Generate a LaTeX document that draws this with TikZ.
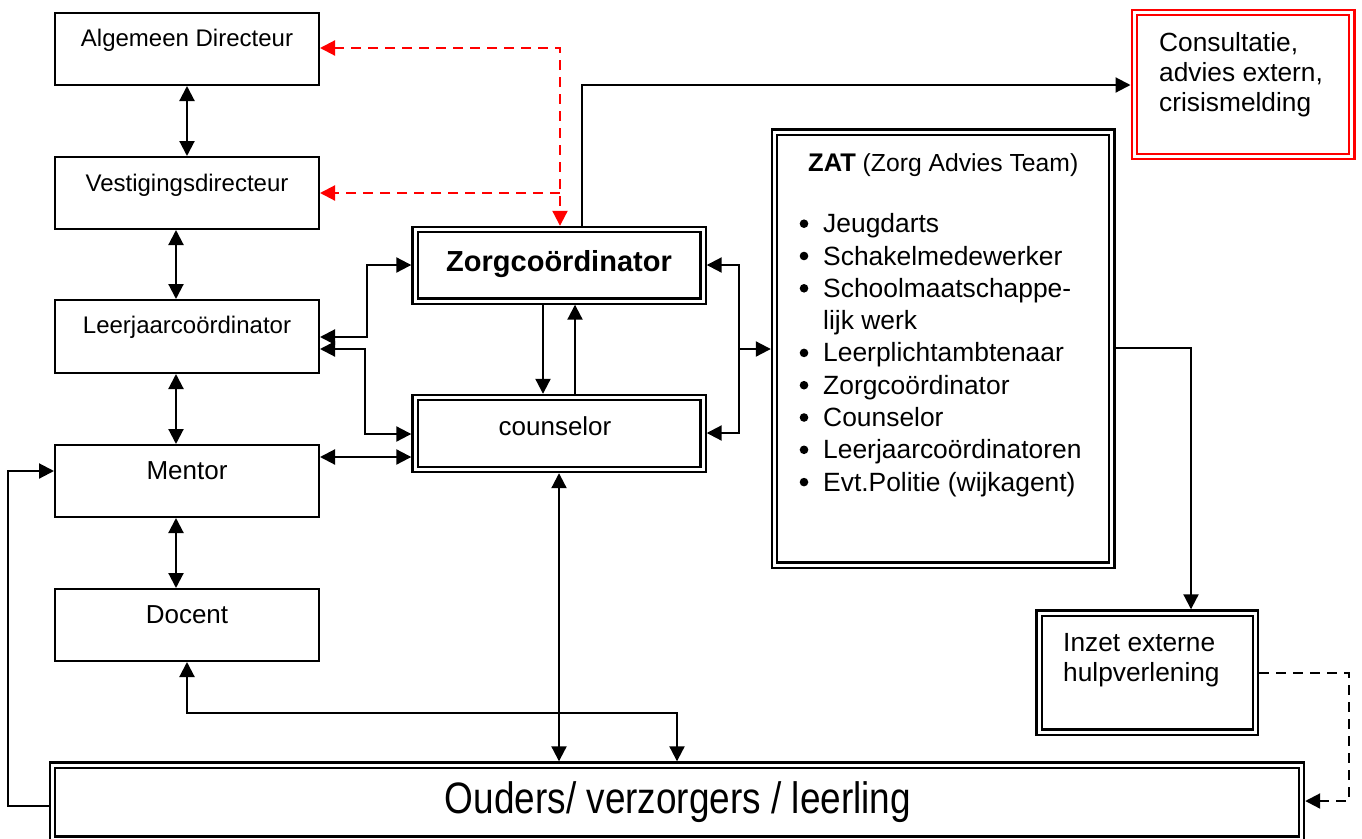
\documentclass[tikz,border=0pt]{standalone}
\usepackage{fontspec}
\setmainfont{Liberation Sans}
\newfontfamily\ouderfont[FakeStretch=0.84]{Liberation Sans}
\usetikzlibrary{arrows.meta}
\begin{document}
\begin{tikzpicture}[x=1pt,y=-1pt,
  lbox/.style={draw, line width=2pt, inner sep=0pt, outer sep=1pt},
  dbox/.style={draw, line width=2.2pt, double, double distance=3pt, inner sep=0pt, outer sep=3.7pt},
  txt/.style={inner sep=0pt},
  tip/.tip={Triangle[length=15pt,width=15pt]},
  arr/.style={line width=2.1pt, -tip},
  darr/.style={line width=2.1pt, tip-tip},
  redarr/.style={red, line width=2.1pt, dash pattern=on 10pt off 7pt, -tip},
  reddarr/.style={red, line width=2.1pt, dash pattern=on 10pt off 7pt, tip-tip},
  dasharr/.style={line width=2.1pt, dash pattern=on 10pt off 7pt, -tip}]
\useasboundingbox (0,0) rectangle (1362,838);
\fill[white] (0,0) rectangle (1362,838);
\clip (0,0) rectangle (1362,838);

% boxes
\node[lbox, minimum width=264pt, minimum height=72pt] (alg) at (187,49) {};
\node[lbox, minimum width=264pt, minimum height=72pt] (ves) at (187,193) {};
\node[lbox, minimum width=264pt, minimum height=73pt] (leer) at (187,336.5) {};
\node[lbox, minimum width=264pt, minimum height=72pt] (ment) at (187,481) {};
\node[lbox, minimum width=264pt, minimum height=72pt] (doc) at (187,625) {};
\node[dbox, minimum width=288pt, minimum height=71.5pt] (zorg) at (559,265.25) {};
\node[dbox, minimum width=288pt, minimum height=72pt] (couns) at (559,433.5) {};
\node[dbox, minimum width=337.3pt, minimum height=433pt] (zat) at (943.15,348.5) {};
\node[dbox, minimum width=216.3pt, minimum height=119pt] (inzet) at (1147.15,672.5) {};
\node[dbox, draw=red, minimum width=217.6pt, minimum height=144.5pt] (cons) at (1243,84.45) {};
\node[dbox, minimum width=1249pt, minimum height=74pt] (ouders) at (677,802) {};

% texts
\node[txt, anchor=base, font=\fontsize{24}{28}\selectfont] (algt) at (187,46) {Algemeen Directeur};
\node[txt, anchor=base, font=\fontsize{24}{28}\selectfont] (vest) at (187,191) {Vestigingsdirecteur};
\node[txt, anchor=base, font=\fontsize{24}{28}\selectfont] (leert) at (187,333) {Leerjaarcoördinator};
\node[txt, anchor=base, font=\fontsize{26}{30}\selectfont] (mentt) at (187,479) {Mentor};
\node[txt, anchor=base, font=\fontsize{26}{30}\selectfont] (doct) at (187,623) {Docent};
\node[txt, anchor=base, font=\fontsize{29}{33}\selectfont\bfseries] (zorgt) at (559,271) {Zorgcoördinator};
\node[txt, anchor=base, font=\fontsize{26}{30}\selectfont] (counst) at (555,435) {counselor};
\node[txt, anchor=base, font=\fontsize{44}{50}\ouderfont] (oudert) at (678,813) {Ouders/ verzorgers / leerling};
\node[txt, anchor=base west, font=\fontsize{26.3}{30}\selectfont] (const) at (1159,51)
  {\begin{tabular}[t]{@{}l@{}}Consultatie,\\advies extern,\\crisismelding\end{tabular}};
\node[txt, anchor=base west, font=\fontsize{26.3}{30}\selectfont] (inzett) at (1063,651)
  {\begin{tabular}[t]{@{}l@{}}Inzet externe\\hulpverlening\end{tabular}};
\node[txt, anchor=base west, font=\fontsize{24.7}{28}\selectfont] (zatt) at (808,171)
  {{\bfseries\fontsize{25.5}{28}\selectfont ZAT} (Zorg Advies Team)};
\node[txt, anchor=base west, font=\fontsize{26.4}{32.3}\selectfont] (zatl) at (823,232.7)
  {\begin{tabular}[t]{@{}l@{}}
   Jeugdarts\\
   Schakelmedewerker\\
   Schoolmaatschappe-\\
   lijk werk\\
   Leerplichtambtenaar\\
   Zorgcoördinator\\
   Counselor\\
   Leerjaarcoördinatoren\\
   Evt.Politie (wijkagent)
   \end{tabular}};
% bullets
\foreach \yy in {232.7,265,297.3,361.9,394.2,426.5,458.8,491.1}
  \fill (804,\yy-9) circle (4.3pt);

% bend points
\coordinate (c176) at (176,0);
\coordinate (dk2) at (677,713);
\coordinate (ol) at (8,806);
\coordinate (ol2) at (8,471);
\coordinate (mc) at (0,457);
\coordinate (lz1) at (367,337);
\coordinate (lz2) at (367,265);
\coordinate (lc1) at (365,349);
\coordinate (lc2) at (365,434);
\coordinate (zc1) at (543,0);
\coordinate (zc2) at (575,0);
\coordinate (rz1) at (739,265);
\coordinate (rz2) at (739,433);
\coordinate (rz3) at (739,349);
\coordinate (zk1) at (582,85);
\coordinate (zi1) at (1191,348);
\coordinate (io1) at (1349,673);
\coordinate (io2) at (1349,801);
\coordinate (r1) at (560,48);
\coordinate (r2) at (560,193);

% connectors
\draw[darr] (alg.south) -- (ves.north);
\draw[darr] (ves.south -| c176) -- (leer.north -| c176);
\draw[darr] (leer.south -| c176) -- (ment.north -| c176);
\draw[darr] (ment.south -| c176) -- (doc.north -| c176);
\draw[darr] (doc.south) |- (dk2) -- (ouders.north -| dk2);
\draw[darr] (couns.south) -- (couns.south |- ouders.north);
\draw[arr] (ouders.west |- ol) -- (ol) -- (ol2) -- (ment.west |- ol2);
\draw[darr] (ment.east |- mc) -- (couns.west |- mc);
\draw[darr] (leer.east |- lz1) -- (lz1) -- (lz2) -- (zorg.west |- lz2);
\draw[darr] (leer.east |- lc1) -- (lc1) -- (lc2) -- (couns.west |- lc2);
\draw[arr] (zorg.south -| zc1) -- (couns.north -| zc1);
\draw[arr] (couns.north -| zc2) -- (zorg.south -| zc2);
\draw[darr] (zorg.east |- rz1) -- (rz1) -- (rz2) -- (couns.east |- rz2);
\draw[arr] (rz3) -- (zat.west |- rz3);
\draw[arr] (zorg.north -| zk1) -- (zk1) -- (cons.west |- zk1);
\draw[arr] (zat.east |- zi1) -- (zi1) -- (inzet.north -| zi1);
\draw[dasharr] (inzet.east |- io1) -- (io1) -- (io2) -- (ouders.east |- io2);
\draw[reddarr] (alg.east |- r1) -- (r1) -- (zorg.north -| r1);
\draw[redarr] (r2) -- (ves.east |- r2);
\end{tikzpicture}
\end{document}
